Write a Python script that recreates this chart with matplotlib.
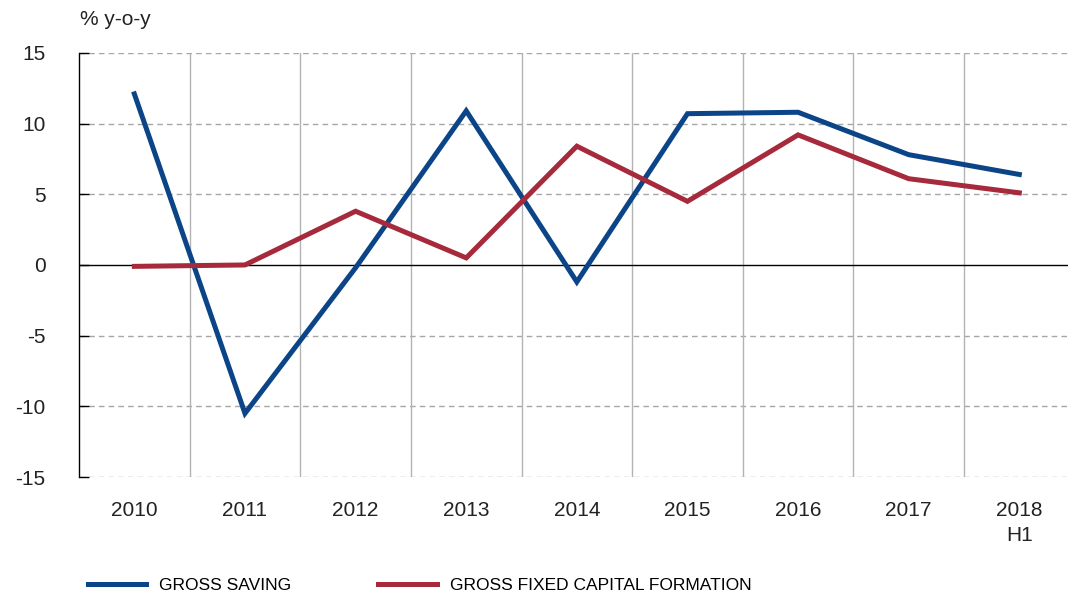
import numpy as np
import matplotlib.pyplot as plt

plt.rcParams['font.family'] = ['Liberation Sans', 'DejaVu Sans']
plt.rcParams['axes.unicode_minus'] = False

years = ['2010', '2011', '2012', '2013', '2014', '2015', '2016', '2017', '2018\nH1']
gross_saving = [12.1, -10.5, -0.2, 10.9, -1.2, 10.7, 10.8, 7.8, 6.4]
gfcf = [-0.1, 0.0, 3.8, 0.5, 8.4, 4.5, 9.2, 6.1, 5.1]

blue = '#0b4587'
red = '#a62a3b'

fig = plt.figure(figsize=(10.68, 6.01), dpi=100)
ax = fig.add_axes([0.074, 0.2063, 0.926, 0.7057])

x = np.arange(len(years))
ax.plot(x, gross_saving, color=blue, lw=3.6, label='GROSS SAVING', solid_joinstyle='miter')
ax.plot(x, gfcf, color=red, lw=3.6, label='GROSS FIXED CAPITAL FORMATION', solid_joinstyle='miter')

ax.set_xlim(-0.5, 8.44)
ax.set_ylim(-15, 15)
ax.set_yticks(np.arange(-15, 16, 5))
ax.set_xticks(x)
ax.set_xticklabels(years, linespacing=1.45)

# dashed horizontal grid, solid vertical separators between years
for v in np.arange(-15, 16, 5):
    if v == 0:
        ax.axhline(0, color='black', lw=1.0, zorder=1)
    else:
        ax.axhline(v, color='#a6a6a6', lw=1.0, ls=(0, (4, 3)), zorder=0)
for b in x[:-1] + 0.5:
    ax.axvline(b, color='#b3b3b3', lw=1.0, zorder=0)

for s in ['top', 'right', 'bottom']:
    ax.spines[s].set_visible(False)
ax.spines['left'].set_color('black')
ax.spines['left'].set_linewidth(1.0)

ax.tick_params(axis='y', direction='in', length=7, width=1.0, labelsize=15, pad=24, colors='black')
ax.tick_params(axis='x', length=0, labelsize=15, pad=17)
for lbl in ax.get_yticklabels() + ax.get_xticklabels():
    lbl.set_color('#222222')

fig.text(0.075, 0.968, '% y-o-y', fontsize=15, color='#222222', va='center', ha='left')

fig.legend(loc='lower left', bbox_to_anchor=(0.068, -0.012), ncol=2, frameon=False,
           handlelength=3.35, handletextpad=0.75, columnspacing=5.0,
           prop={'family': ['Liberation Sans Narrow', 'Liberation Sans'], 'size': 12.5})

fig.savefig('out.png', dpi=100)
